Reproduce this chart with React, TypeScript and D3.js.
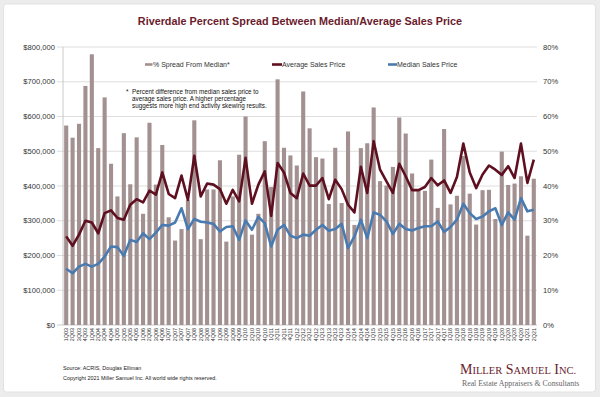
import React from "react";
import * as d3 from "d3";

const quarters = [
  "1Q03","2Q03","3Q03","4Q03","1Q04","2Q04","3Q04","4Q04","1Q05","2Q05","3Q05","4Q05",
  "1Q06","2Q06","3Q06","4Q06","1Q07","2Q07","3Q07","4Q07","1Q08","2Q08","3Q08","4Q08",
  "1Q09","2Q09","3Q09","4Q09","1Q10","2Q10","3Q10","4Q10","1Q11","2Q11","3Q11","4Q11",
  "1Q12","2Q12","3Q12","4Q12","1Q13","2Q13","3Q13","4Q13","1Q14","2Q14","3Q14","4Q14",
  "1Q15","2Q15","3Q15","4Q15","1Q16","2Q16","3Q16","4Q16","1Q17","2Q17","3Q17","4Q17",
  "1Q18","2Q18","3Q18","4Q18","1Q19","2Q19","3Q19","4Q19","1Q20","2Q20","3Q20","4Q20",
  "1Q21","2Q21"
];

const spreadPct = [
  57.4,53.9,57.9,68.8,77.9,50.9,65.5,46.4,37.0,55.2,40.5,54.0,
  32.0,58.2,40.4,51.8,31.0,24.3,27.6,35.9,58.9,24.7,39.0,39.0,
  47.4,24.0,37.0,49.0,60.0,26.0,32.0,52.9,39.7,70.7,51.0,48.8,
  45.9,67.2,56.6,48.3,47.9,34.8,51.0,35.1,55.7,28.8,50.9,52.3,
  62.6,41.4,40.1,45.5,59.7,55.1,43.6,38.9,38.6,47.6,33.7,56.4,
  34.7,37.2,48.6,37.8,28.9,38.8,38.9,30.5,49.9,40.3,40.7,42.8,
  25.7,42.1
];

const averagePrice = [
  255000,228000,260000,300000,295000,264000,322000,330000,308000,303000,346000,362000,
  353000,387000,375000,439000,377000,365000,430000,360000,487000,370000,407000,404000,
  391000,349000,389000,356000,481000,349000,404000,442000,314000,466000,439000,380000,
  365000,436000,401000,401000,423000,362000,418000,391000,346000,324000,455000,380000,
  529000,447000,413000,380000,464000,428000,388000,388000,397000,423000,402000,416000,
  380000,426000,522000,439000,394000,433000,459000,447000,432000,457000,423000,522000,
  409000,476000
];

const medianPrice = [
  162000,149000,168000,176000,168000,176000,197000,226000,224000,199000,245000,239000,
  264000,247000,266000,288000,286000,295000,336000,276000,305000,297000,295000,291000,
  269000,282000,284000,245000,301000,274000,311000,293000,226000,274000,288000,257000,
  250000,260000,257000,274000,288000,271000,276000,291000,221000,255000,303000,250000,
  324000,317000,298000,262000,291000,276000,272000,279000,284000,284000,298000,268000,
  282000,303000,349000,322000,305000,312000,327000,336000,288000,324000,303000,365000,
  327000,332000
];

const priceTicks = [0,100000,200000,300000,400000,500000,600000,700000,800000];
const pctTicks = [0,10,20,30,40,50,60,70,80];

const W = 600, H = 397;
const left = 63, right = 537, top = 47, bottom = 325;
const barColor = "#a39090";
const avgColor = "#5e1020";
const medColor = "#4a7bb0";
const textColor = "#333";
const font = "Liberation Sans, Arial, sans-serif";
const serif = "Liberation Serif, Times New Roman, serif";

export default function App() {
  const x = d3.scaleBand<string>().domain(quarters).range([left, right]).paddingInner(0.36).paddingOuter(0.18);
  const yL = d3.scaleLinear().domain([0, 800000]).range([bottom, top]);
  const yR = d3.scaleLinear().domain([0, 80]).range([bottom, top]);
  const cx = (q: string) => (x(q) as number) + x.bandwidth() / 2;
  const line = d3.line<number>().x((_, i) => cx(quarters[i])).y((v) => yL(v));
  const fmt = d3.format("$,");

  return (
    <svg width={W} height={H} style={{ position: "absolute", left: 0, top: 0 }} fontFamily={font}>
      <rect x={0} y={0} width={W} height={H} fill="#ececec" />
      <rect x={3.5} y={4} width={592} height={388} rx={3} fill="#ffffff" stroke="#e2e2e2" />
      <text x={300} y={25} textAnchor="middle" fontSize={10.8} fontWeight="bold" fill="#6a1b2c">
        Riverdale Percent Spread Between Median/Average Sales Price
      </text>

      {priceTicks.map((t) => (
        <g key={t}>
          <line x1={left - 6} x2={right} y1={yL(t)} y2={yL(t)} stroke={t === 0 ? "#bdbdbd" : "#d6d6d6"} strokeWidth={0.8} />
          <text x={left - 8} y={yL(t) + 2.6} textAnchor="end" fontSize={7.6} fill={textColor}>{fmt(t)}</text>
        </g>
      ))}
      {pctTicks.map((t) => (
        <text key={t} x={543} y={yR(t) + 2.6} textAnchor="start" fontSize={7.6} fill={textColor}>{t}%</text>
      ))}
      <line x1={left} x2={left} y1={top} y2={bottom} stroke="#bdbdbd" strokeWidth={0.8} />

      {quarters.map((q, i) => (
        <rect key={q} x={x(q)} y={yR(spreadPct[i])} width={x.bandwidth()} height={bottom - yR(spreadPct[i])} fill={barColor} />
      ))}

      <path d={line(averagePrice) || ""} fill="none" stroke={avgColor} strokeWidth={2.6} strokeLinejoin="round" />
      <path d={line(medianPrice) || ""} fill="none" stroke={medColor} strokeWidth={2.6} strokeLinejoin="round" />

      {quarters.map((q) => (
        <text key={q} transform={`translate(${cx(q) + 1.8},${bottom + 3}) rotate(-90)`} textAnchor="end" fontSize={5.4} fill={textColor}>{q}</text>
      ))}

      <g fontSize={7} fill={textColor}>
        <line x1={145} x2={152.5} y1={64.5} y2={64.5} stroke={barColor} strokeWidth={2.6} />
        <text x={153} y={67}>% Spread From Median*</text>
        <line x1={272} x2={282} y1={64.5} y2={64.5} stroke={avgColor} strokeWidth={2.6} />
        <text x={282} y={67}>Average Sales Price</text>
        <line x1={388} x2={397} y1={64.5} y2={64.5} stroke={medColor} strokeWidth={2.6} />
        <text x={397} y={67}>Median Sales Price</text>
      </g>

      <g fontSize={6.3} fill="#111">
        <text x={126} y={94}>*</text>
        <text x={132} y={94}>Percent difference from median sales price to</text>
        <text x={132} y={101}>average sales price.  A higher percentage</text>
        <text x={132} y={108}>suggests more high end activity skewing results.</text>
      </g>

      <g fontSize={5.4} fill="#222">
        <text x={63} y={370}>Source: ACRIS, Douglas Elliman</text>
        <text x={63} y={380}>Copyright 2021 Miller Samuel Inc.  All world wide rights reserved.</text>
      </g>

      <text x={460} y={374} fontFamily={serif} fill="#6a1b2c" fontSize={14}>
        M<tspan fontSize={10.5}>ILLER</tspan> S<tspan fontSize={10.5}>AMUEL</tspan> I<tspan fontSize={10.5}>NC.</tspan>
      </text>
      <text x={462} y={386} fontFamily={serif} fill="#666" fontSize={7.8}>Real Estate Appraisers &amp; Consultants</text>
    </svg>
  );
}
